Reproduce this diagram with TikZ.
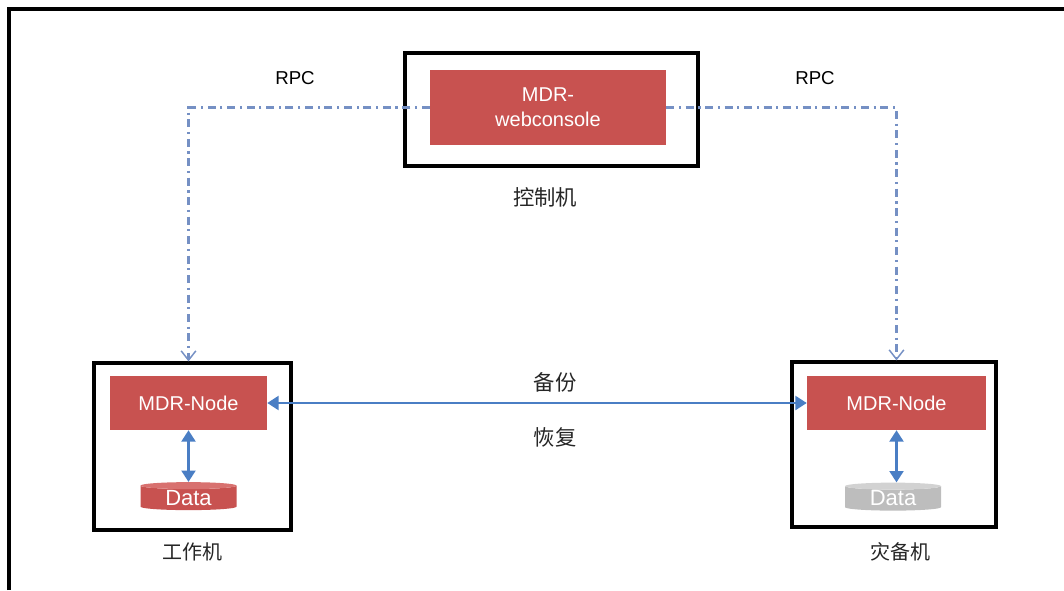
\documentclass[tikz,border=0pt]{standalone}
\usepackage{fontspec}
\setmainfont{Liberation Sans}
\newfontfamily\cjk{Noto Sans CJK SC}
\usetikzlibrary{arrows.meta, positioning, shapes.geometric}
\definecolor{mdrred}{HTML}{C85250}
\definecolor{mdrredtop}{HTML}{D8716F}
\definecolor{sparegray}{HTML}{BDBDBD}
\definecolor{sparegraytop}{HTML}{D2D2D2}
\definecolor{linkblue}{HTML}{4A7EC4}
\definecolor{rpcblue}{HTML}{7590C4}

\begin{document}
\begin{tikzpicture}[x=0.75pt, y=-0.75pt,
  host/.style={draw=black, line width=2.4pt, inner sep=0pt},
  redbox/.style={fill=mdrred, text=white, inner sep=0pt, align=center,
    font=\fontsize{15}{19}\selectfont},
  db/.style={cylinder, shape border rotate=90, aspect=0.15, draw=none,
    cylinder uses custom fill, inner sep=0pt, text=white,
    minimum width=72pt, minimum height=21pt, font=\fontsize{16.5}{16.5}\selectfont},
  cn/.style={font=\cjk\fontsize{16}{16}\selectfont, text=black!85},
  rpc/.style={rpcblue, line width=1.65pt, dash pattern=on 6pt off 3.5pt on 1.6pt off 3.5pt,
    -{Straight Barb[width=11pt, length=7pt, line width=1.1pt]}},
  link/.style={linkblue, line width=1.6pt,
    {Triangle[width=10.5pt, length=8.5pt]}-{Triangle[width=10.5pt, length=8.5pt]}}]
\useasboundingbox (0,0) rectangle (1064,590);

% outer frame
\draw[line width=2.4pt] (9,590) -- (9,9) -- (1064,9);

% control machine
\node[host, minimum width=219.75pt, minimum height=84.75pt] (ctl) at (551.5,109.5) {};
\node[redbox, minimum width=177pt, minimum height=56.25pt] (web) at (548,107.5) {MDR-\\webconsole};
\node[cn] (ctllabel) at (545,197) {控制机};

% work machine
\node[host, minimum width=147.75pt, minimum height=125.25pt] (lbox) at (192.5,446.5) {};
\node[redbox, minimum width=117.75pt, minimum height=40.5pt] (lred) at (188.5,403) {MDR-Node};
\node[db, cylinder end fill=mdrredtop, cylinder body fill=mdrred] (ldata) at (188.5,498) {Data};
\node[cn, font=\cjk\fontsize{15}{15}\selectfont] (llabel) at (192,552) {工作机};

% spare machine
\node[host, minimum width=153pt, minimum height=123.75pt] (rbox) at (894,444.5) {};
\node[redbox, minimum width=134.25pt, minimum height=40.5pt] (rred) at (896.5,403) {MDR-Node};
\node[db, cylinder end fill=sparegraytop, cylinder body fill=sparegray] (rdata) at (893,498.5) {Data};
\node[cn, font=\cjk\fontsize{15}{15}\selectfont] (rlabel) at (900,552) {灾备机};

% RPC
\draw[rpc] (web.west) -| (lred |- lbox.north);
\draw[rpc] (web.east) -| (rred |- rbox.north);
\node[font=\fontsize{14}{14}\selectfont] (lrpc) at (295,78) {RPC};
\node[font=\fontsize{14}{14}\selectfont] (rrpc) at (815,78) {RPC};

% backup / restore
\draw[link] (lred.east) -- (rred.west);
\node[cn] (backup) at (555,382) {备份};
\node[cn] (restore) at (555,437) {恢复};
\foreach \n in {l,r} {
  \draw[link] (\n red.south) -- (\n red.south |- \n data.north);
}
\end{tikzpicture}
\end{document}
